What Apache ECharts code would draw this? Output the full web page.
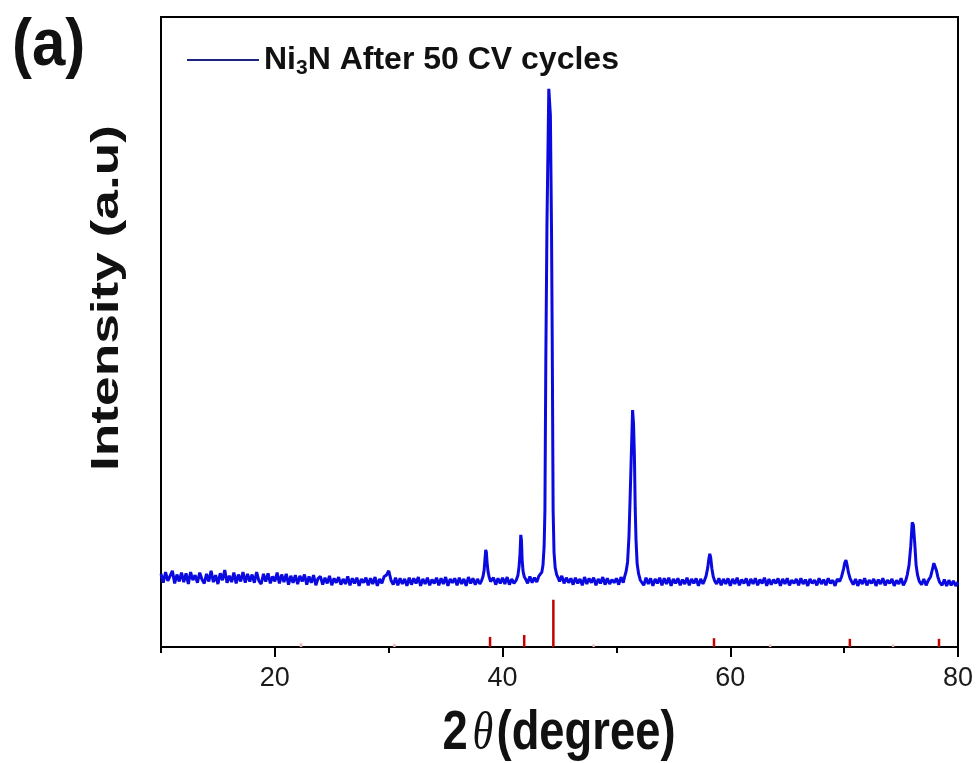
<!DOCTYPE html>
<html>
<head>
<meta charset="utf-8">
<script src="https://cdn.jsdelivr.net/npm/echarts@6/dist/echarts.min.js"></script>
<style>
html,body{margin:0;padding:0;background:#fff;}
#chart{width:980px;height:763px;}
</style>
</head>
<body>
<div id="chart"></div>
<script>
// ---- data ----
var seriesName = 'Ni3N After 50 CV cycles';
var backgroundStart = 10;     // 2θ of first background sample
var backgroundStep = 0.2;     // spacing of background samples (degree)
var backgroundIntensity = [
  11.6,10.2,11.9,10.5,11.3,12.1,10.1,11.5,10.4,11.8,
  10.3,11.7,10.0,11.9,10.6,11.4,10.2,11.8,10.7,10.1,
  11.6,10.4,12.1,10.3,11.4,10.0,11.7,10.6,12.2,10.2,
  11.3,10.3,11.8,10.1,11.5,10.4,11.9,10.2,11.6,10.4,
  11.5,10.2,11.9,10.5,10.0,11.6,10.4,11.7,10.1,11.2,
  10.4,11.8,10.1,11.5,10.3,11.6,9.9,11.3,10.2,11.4,
  10.0,11.3,10.4,11.5,9.9,11.2,10.2,11.4,9.8,10.9,
  11.2,9.9,11.0,10.1,11.3,9.8,10.9,10.2,11.1,9.9,
  10.8,10.0,11.2,9.8,10.9,10.1,11.0,9.7,10.8,10.2,
  11.0,9.8,10.9,10.0,11.1,9.7,10.8,10.1,11.2,11.4,
  12.1,10.6,9.9,11.0,9.8,10.9,10.0,10.8,9.7,11.0,
  9.9,10.9,10.1,11.1,9.7,10.8,10.0,11.0,9.8,10.7,
  10.1,11.0,9.8,10.9,10.0,11.1,9.7,10.8,10.2,10.9,
  9.8,11.0,10.0,10.8,9.7,11.1,10.1,10.9,9.9,10.8,
  10.0,11.1,10.5,10.5,10.5,10.2,11.0,9.9,10.9,10.1,
  11.0,10.0,11.1,9.9,10.8,10.1,11.2,10.0,11.0,10.3,
  10.8,10.1,11.2,10.2,11.0,10.3,11.3,10.6,11.4,11.0,
  11.0,11.0,11.0,11.0,11.0,10.4,11.3,10.1,11.0,10.2,
  10.9,9.9,11.0,10.1,10.8,9.8,11.1,10.0,10.9,10.2,
  11.0,9.8,10.8,10.1,11.1,9.9,10.9,10.0,10.7,10.2,
  10.9,9.9,11.1,10.2,11.0,11.0,11.0,11.0,11.0,11.0,
  11.0,10.6,9.8,11.0,10.0,10.9,9.7,10.8,10.1,11.0,
  9.8,10.9,10.0,11.0,9.7,10.8,10.1,10.9,9.8,10.7,
  10.0,11.0,9.8,10.8,10.1,10.9,9.7,10.8,10.0,10.6,
  10.5,10.5,10.5,10.5,10.0,10.9,9.8,10.8,10.0,10.9,
  9.7,10.8,10.0,11.0,9.8,10.7,10.1,10.9,9.7,10.8,
  10.0,10.9,9.8,10.7,10.1,11.0,9.7,10.8,9.9,10.7,
  10.1,10.9,9.7,10.8,10.0,10.9,9.8,10.6,10.1,10.8,
  9.8,10.9,10.0,10.7,9.7,10.8,10.1,10.6,9.8,10.9,
  10.0,10.7,9.8,10.9,10.1,10.6,9.7,10.8,10.0,10.7,
  10.5,10.5,10.5,10.5,9.9,10.8,9.7,10.7,10.0,10.9,
  9.8,10.6,10.1,10.8,9.7,10.7,10.0,10.9,9.8,10.6,
  10.1,10.8,9.7,10.6,10.0,10.9,9.8,10.7,10.1,10.6,
  10.5,10.5,10.5,10.5,9.9,10.8,9.8,10.6,10.5,10.5,
  10.5,10.5,10.6,9.8,10.7,9.7,10.6,9.8,10.5,9.7,
  10.3
];
var peak38 = [[38.15,10.5],[38.28,11.2],[38.38,12.2],[38.44,13.6],[38.52,15.4],[38.58,15.0],[38.64,13.4],[38.72,12.0],[38.82,11.1],[38.95,10.4]];
var peak41 = [[41.2,10.6],[41.35,11.4],[41.45,12.8],[41.53,14.8],[41.6,17.8],[41.66,16.9],[41.72,13.8],[41.8,12.0],[41.9,11.2],[42.05,10.7]];
var peak44 = [[43.3,11.3],[43.45,11.9],[43.55,13.0],[43.65,16.0],[43.72,21.7],[43.8,45.9],[43.9,67.3],[44.06,88.6],[44.2,84.4],[44.3,66.0],[44.36,49.2],[44.44,21.7],[44.52,15.0],[44.62,12.6],[44.75,11.5],[44.9,10.9]];
var peak51 = [[50.7,11.0],[50.85,12.0],[50.98,13.5],[51.1,17.5],[51.19,22.9],[51.3,30.0],[51.42,37.6],[51.5,35.5],[51.58,30.3],[51.65,22.0],[51.72,17.0],[51.82,13.2],[51.95,11.6],[52.1,10.6]];
var peak58 = [[57.7,10.4],[57.88,11.3],[58.02,12.6],[58.12,14.0],[58.2,14.8],[58.28,14.2],[58.38,12.5],[58.5,11.2],[58.65,10.4]];
var peak70 = [[69.6,10.4],[69.78,11.2],[69.95,12.4],[70.06,13.4],[70.16,13.8],[70.26,13.0],[70.38,11.8],[70.52,10.9],[70.68,10.3]];
var peak76 = [[75.4,10.5],[75.55,11.5],[75.7,13.0],[75.85,16.0],[75.98,19.8],[76.08,19.4],[76.2,16.5],[76.32,13.0],[76.45,11.4],[76.6,10.4]];
var peak78 = [[77.45,10.4],[77.6,11.2],[77.75,12.3],[77.88,13.3],[77.98,13.0],[78.1,12.2],[78.22,11.2],[78.38,10.3]];
var peakList = [peak38, peak41, peak44, peak51, peak58, peak70, peak76, peak78];

// reference (PDF card) sticks
var refAngles  = [22.3, 30.5, 38.9, 41.9, 44.46, 48.0, 58.57, 63.5, 70.5, 74.3, 78.33];
var refHeights = [0.6,  0.5,  1.6,  1.9,  7.5,   0.4,  1.4,   0.4,  1.3,  0.4,  1.3];
var refFaint   = [true, true, false,false,false, true, false, true, false,true, false];

var xTickLabels = [20, 40, 60, 80];
var xMinorTicks = [10, 30, 50, 70];

// ---- build series data ----
var lineData = [];
for (var i = 0; i < backgroundIntensity.length; i++) {
  var a = +(backgroundStart + i * backgroundStep).toFixed(2);
  var inside = peakList.some(function (p) { return a >= p[0][0] && a <= p[p.length - 1][0]; });
  if (!inside) lineData.push([a, backgroundIntensity[i]]);
}
peakList.forEach(function (p) { p.forEach(function (pt) { lineData.push(pt); }); });
lineData.sort(function (u, v) { return u[0] - v[0]; });

var refData = refAngles.map(function (a, i) {
  return { value: [a, refHeights[i]], itemStyle: { color: refFaint[i] ? '#efb4b4' : '#c40000' } };
});

var chart = echarts.init(document.getElementById('chart'), null, { renderer: 'canvas' });
var sansBold = '"Liberation Sans", Arial, Helvetica, sans-serif';

chart.setOption({
  animation: false,
  backgroundColor: '#fff',
  grid: { left: 161, right: 22, top: 17, bottom: 116, show: true, borderColor: '#000', borderWidth: 2, containLabel: false },
  legend: {
    data: [seriesName],
    left: 182, top: 39,
    itemWidth: 72, itemHeight: 14, itemGap: 9,
    selectedMode: false,
    icon: 'path://M0,0 L72,0 L72,2 L0,2 Z',
    itemStyle: { color: '#1c2380' },
    formatter: function () { return '{b|Ni}{s|3}{b|N After 50 CV cycles}'; },
    textStyle: {
      color: '#111',
      rich: {
        b: { fontSize: 32, fontWeight: 'bold', fontFamily: sansBold, color: '#111' },
        s: { fontSize: 21, fontWeight: 'bold', fontFamily: sansBold, color: '#111', padding: [17, 0, 0, 0] }
      }
    }
  },
  xAxis: [
    {
      type: 'value', min: 10, max: 80, interval: 10, position: 'bottom',
      axisLine: { show: true, onZero: false, lineStyle: { color: '#000', width: 2 } },
      axisTick: { show: true, inside: false, length: 10, lineStyle: { color: '#000', width: 2 }, customValues: xTickLabels },
      axisLabel: {
        show: true, customValues: xTickLabels, margin: 18, color: '#1a1a1a', fontSize: 27,
        fontFamily: '"Liberation Sans Narrow", "Arial Narrow", "Liberation Sans", sans-serif'
      },
      splitLine: { show: false }
    },
    {
      type: 'value', min: 10, max: 80, interval: 10, position: 'bottom',
      axisLine: { show: false, onZero: false },
      axisTick: { show: true, inside: false, length: 6, lineStyle: { color: '#000', width: 2 }, customValues: xMinorTicks },
      axisLabel: { show: false },
      splitLine: { show: false }
    }
  ],
  yAxis: {
    type: 'value', min: 0, max: 100,
    axisLine: { show: true, lineStyle: { color: '#000', width: 2 } },
    axisTick: { show: false }, axisLabel: { show: false }, splitLine: { show: false }
  },
  series: [
    {
      name: seriesName, type: 'line', xAxisIndex: 0, data: lineData,
      showSymbol: false, symbol: 'none', sampling: null, smooth: false,
      lineStyle: { color: '#0a0ae0', width: 3 },
      itemStyle: { color: '#1c2380' },
      z: 3
    },
    {
      name: 'reference', type: 'bar', xAxisIndex: 0, data: refData,
      barWidth: 2.5, z: 2
    }
  ],
  graphic: [
    {
      type: 'text', x: 12, y: 13, scaleY: 1.12,
      style: { text: '(a)', fontSize: 60, fontWeight: 'bold', fontFamily: sansBold, fill: '#111', textAlign: 'left', textVerticalAlign: 'top' }
    },
    {
      type: 'text', x: 559, y: 734, scaleX: 0.81,
      style: {
        text: '{n|2}{t|θ}{n|(degree)}',
        textAlign: 'center', textVerticalAlign: 'middle',
        rich: {
          n: { fontSize: 56, fontWeight: 'bold', fontFamily: sansBold, fill: '#111' },
          t: { fontSize: 52, fontStyle: 'italic', fontFamily: '"Liberation Serif", "DejaVu Serif", serif', fill: '#111', padding: [0, 4, 0, 6] }
        }
      }
    },
    {
      type: 'text', x: 108, y: 298, rotation: Math.PI / 2, scaleX: 1.4,
      style: { text: 'Intensity (a.u)', fontSize: 38, fontWeight: 'bold', fontFamily: sansBold, fill: '#111', textAlign: 'center', textVerticalAlign: 'middle' }
    }
  ]
});
</script>
</body>
</html>
